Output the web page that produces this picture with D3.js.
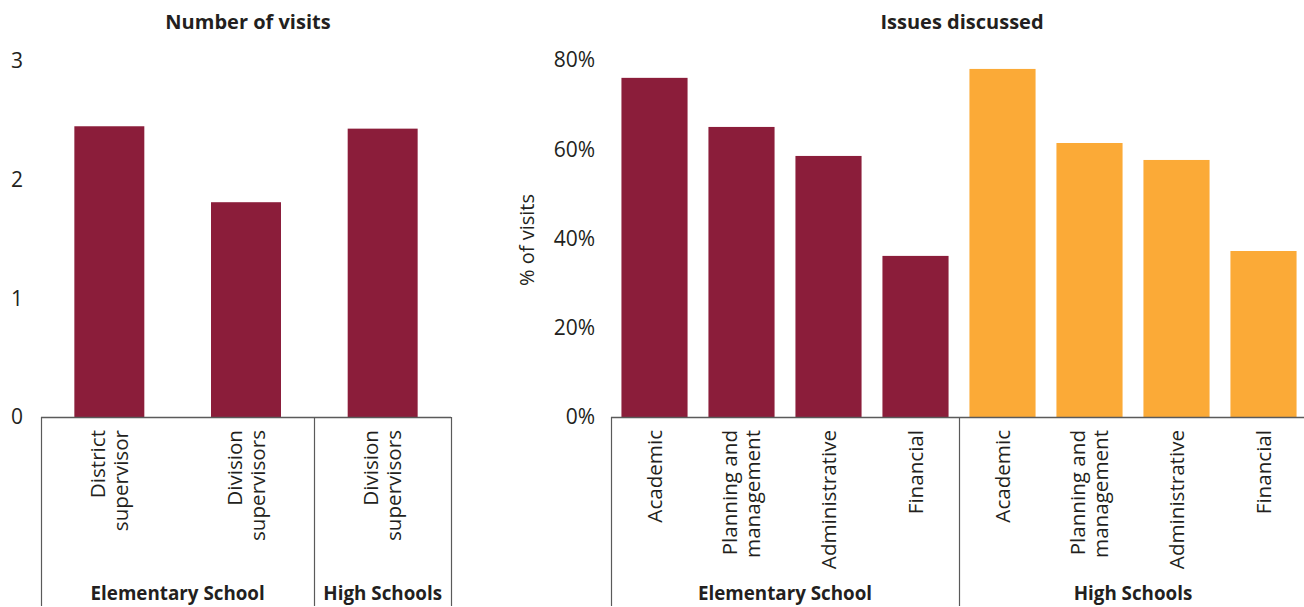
<!DOCTYPE html>
<html><head><meta charset="utf-8">
<script src="https://cdn.jsdelivr.net/npm/d3@7"></script>
<style>body{margin:0;background:#fff}svg{display:block}text{font-family:"Open Sans",sans-serif;fill:#231f20}</style>
</head><body><svg id="c" width="1304" height="607"></svg>
<script>
// ---- data ----
const visitCategories = ["District supervisor|ES", "Division supervisors|ES", "Division supervisors|HS"];
const visitLabels = [["District","supervisor"],["Division","supervisors"],["Division","supervisors"]];
const visitValues = [2.45, 1.81, 2.43];
const visitTicks = [0,1,2,3];
const visitGroups = [{name:"Elementary School", from:0, to:2},{name:"High Schools", from:2, to:3}];

const issueCategories = ["ES-Academic","ES-Planning","ES-Administrative","ES-Financial","HS-Academic","HS-Planning","HS-Administrative","HS-Financial"];
const issueLabels = [["Academic"],["Planning and","management"],["Administrative"],["Financial"],["Academic"],["Planning and","management"],["Administrative"],["Financial"]];
const issueValues = [76.0, 65.0, 58.5, 36.1, 78.0, 61.4, 57.6, 37.2];
const issueSeries = ["Elementary School","Elementary School","Elementary School","Elementary School","High Schools","High Schools","High Schools","High Schools"];
const issueTicks = [0,20,40,60,80];
const issueGroups = [{name:"Elementary School", from:0, to:4},{name:"High Schools", from:4, to:8}];

const colors = {"Elementary School":"#8b1d3a","High Schools":"#fbaa37"};
const svg = d3.select("#c");
const axisColor = "#5a5a5a";
const baseY = 417, bottomY = 606, labelTop = 430;

function panel(opts){
  const g = svg.append("g");
  const x = d3.scaleBand().domain(opts.cats).range(opts.xr).paddingInner(opts.pad).paddingOuter(opts.pad/2);
  const y = d3.scaleLinear().domain(opts.ydom).range([baseY, opts.ytop]);
  g.selectAll("rect.bar").data(opts.values).join("rect")
    .attr("x",(d,i)=>x(opts.cats[i])).attr("width",x.bandwidth())
    .attr("y",d=>y(d)).attr("height",d=>baseY-y(d))
    .attr("fill",(d,i)=>opts.color(i));
  g.selectAll("text.tick").data(opts.ticks).join("text")
    .attr("x",opts.tickX).attr("y",d=>y(d)).attr("dy","0.35em")
    .attr("text-anchor",opts.tickAnchor).style("font-size","21px")
    .text(opts.tickFmt);
  g.append("line").attr("x1",opts.xr[0]).attr("x2",opts.lineEnd).attr("y1",baseY+0.5).attr("y2",baseY+0.5)
    .attr("stroke",axisColor).attr("stroke-width",1.5);
  const step = x.step();
  const seps = opts.seps.map(i=>opts.xr[0]+i*step);
  g.selectAll("line.sep").data(seps).join("line")
    .attr("x1",d=>Math.round(d)+0.5).attr("x2",d=>Math.round(d)+0.5).attr("y1",baseY).attr("y2",bottomY)
    .attr("stroke",axisColor).attr("stroke-width",1.2);
  opts.labels.forEach((lines,i)=>{
    const cx = x(opts.cats[i]) + x.bandwidth()/2;
    lines.forEach((t,j)=>{
      const off = (j-(lines.length-1)/2)*23;
      g.append("text").attr("transform",`translate(${cx+off},${labelTop}) rotate(-90)`)
        .attr("text-anchor","end").attr("dy","0.35em").style("font-size","20.6px").text(t);
    });
  });
  opts.groups.forEach(gr=>{
    const cx = opts.xr[0] + (gr.from+gr.to)/2*step;
    g.append("text").attr("x",cx).attr("y",600).attr("text-anchor","middle")
      .style("font-size","18.8px").style("font-weight","bold").text(gr.name);
  });
  g.append("text").attr("x",opts.titleX).attr("y",29).attr("text-anchor","middle")
    .style("font-size","20px").style("font-weight","bold").text(opts.title);
  return g;
}

panel({cats:visitCategories, xr:[41,451], pad:0.488, values:visitValues, ydom:[0,3], ytop:61,
  color:()=>colors["Elementary School"], ticks:visitTicks, tickX:17, tickAnchor:"middle", tickFmt:d=>d,
  lineEnd:451, seps:[0,2,3], labels:visitLabels, groups:visitGroups, title:"Number of visits", titleX:248});

panel({cats:issueCategories, xr:[611,1307], pad:0.24, values:issueValues, ydom:[0,80], ytop:60,
  color:i=>colors[issueSeries[i]], ticks:issueTicks, tickX:595, tickAnchor:"end", tickFmt:d=>d+"%",
  lineEnd:1304, seps:[0,4], labels:issueLabels, groups:issueGroups, title:"Issues discussed", titleX:962});

svg.append("text").attr("transform","translate(527,240) rotate(-90)").attr("text-anchor","middle")
  .attr("dy","0.35em").style("font-size","20px").text("% of visits");
</script></body></html>
